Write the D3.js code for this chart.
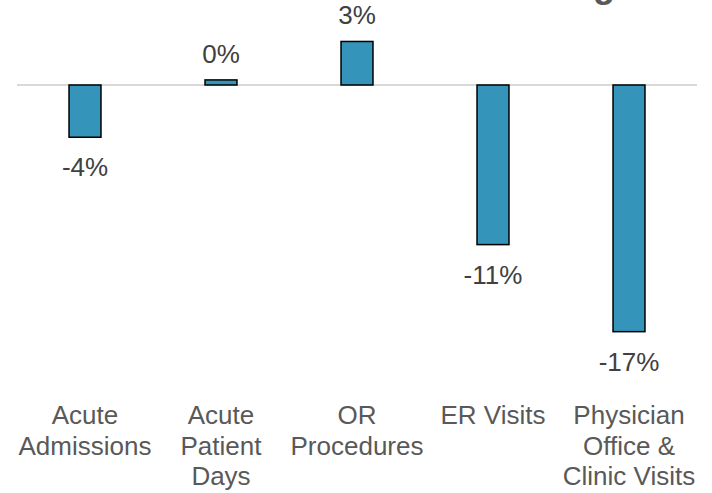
<!DOCTYPE html>
<html>
<head>
<meta charset="utf-8">
<script src="https://cdn.jsdelivr.net/npm/d3@7"></script>
<style>
  html, body { margin: 0; padding: 0; background: #ffffff; }
  svg { display: block; }
</style>
</head>
<body>
<svg id="chart" width="712" height="493"></svg>
<script>
const categories = [
  ["Acute", "Admissions"],
  ["Acute", "Patient", "Days"],
  ["OR", "Procedures"],
  ["ER Visits"],
  ["Physician", "Office &", "Clinic Visits"]
];
const values = [-3.6, 0.35, 3.0, -11.0, -17.0];
const yDomain = [-20, 5];

const svg = d3.select("#chart");
const font = "'Liberation Sans', Arial, sans-serif";

const x = d3.scaleBand()
  .domain(d3.range(categories.length))
  .range([17, 697])
  .paddingInner(0.765)
  .paddingOuter(0.765 / 2);

const pxPerUnit = 14.51;
const zeroY = 85;
const y = d3.scaleLinear()
  .domain(yDomain)
  .range([zeroY - yDomain[0] * pxPerUnit, zeroY - yDomain[1] * pxPerUnit]);

// cut-off title descender at top
svg.append("text")
  .attr("x", 604)
  .attr("y", -3.5)
  .attr("text-anchor", "middle")
  .attr("font-family", font)
  .attr("font-weight", "bold")
  .attr("font-size", 36)
  .attr("fill", "#595959")
  .text("g");

// zero line
svg.append("line")
  .attr("x1", 17).attr("x2", 697)
  .attr("y1", y(0)).attr("y2", y(0))
  .attr("stroke", "#d9d9d9")
  .attr("stroke-width", 2);

// bars
svg.selectAll("rect.bar")
  .data(values)
  .join("rect")
  .attr("class", "bar")
  .attr("x", (d, i) => x(i))
  .attr("width", x.bandwidth())
  .attr("y", d => y(Math.max(0, d)))
  .attr("height", d => Math.abs(y(d) - y(0)))
  .attr("fill", "#3494ba")
  .attr("stroke", "#000000")
  .attr("stroke-width", 1.5);

// data labels
const fmt = d3.formatLocale({ decimal: ".", thousands: ",", grouping: [3], currency: ["", ""], minus: "-" }).format(".0f");
svg.selectAll("text.val")
  .data(values)
  .join("text")
  .attr("class", "val")
  .attr("x", (d, i) => x(i) + x.bandwidth() / 2)
  .attr("y", d => d >= 0 ? y(d) - 17 : y(d) + 39)
  .attr("text-anchor", "middle")
  .attr("font-family", font)
  .attr("font-size", 26)
  .attr("fill", "#404040")
  .text(d => fmt(d) + "%");

// category labels
const cat = svg.selectAll("text.cat")
  .data(categories)
  .join("text")
  .attr("class", "cat")
  .attr("text-anchor", "middle")
  .attr("font-family", font)
  .attr("font-size", 26)
  .attr("fill", "#595959");

cat.selectAll("tspan")
  .data((d, i) => d.map(s => ({ s, i })))
  .join("tspan")
  .attr("x", d => x(d.i) + x.bandwidth() / 2)
  .attr("y", (d, j) => 424 + j * 30.5)
  .text(d => d.s);
</script>
</body>
</html>
